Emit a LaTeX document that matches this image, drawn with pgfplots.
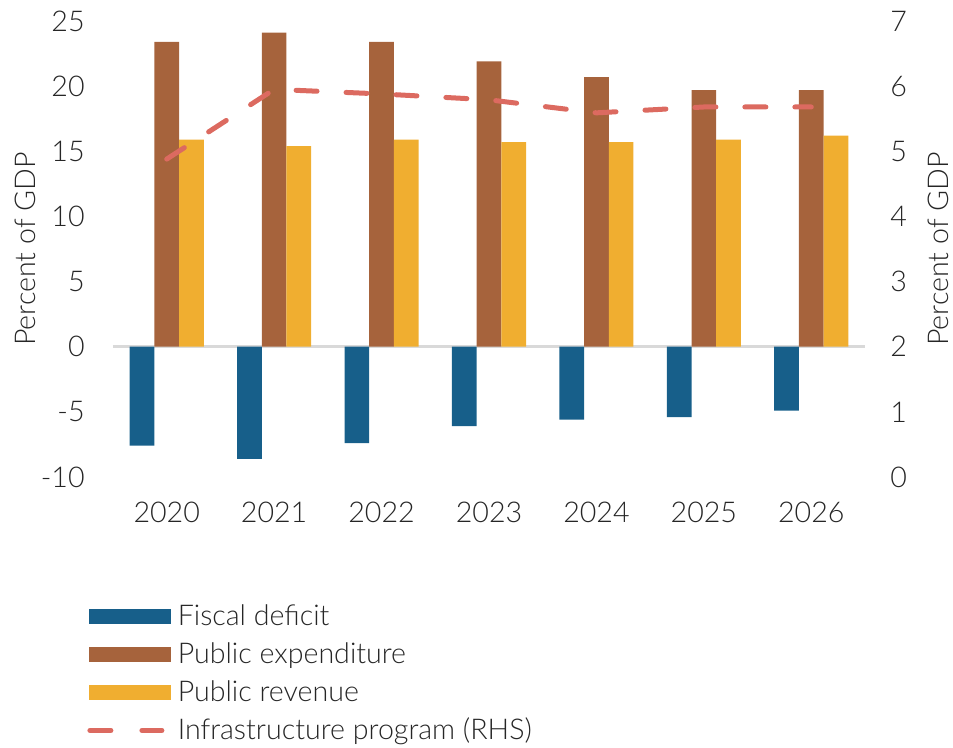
\documentclass[border=0pt]{standalone}
\usepackage{fontspec}
\setmainfont{Lato Light}
\usepackage{pgfplots}
\pgfplotsset{compat=1.18}

\definecolor{cdef}{HTML}{175F8A}
\definecolor{cexp}{HTML}{A6633C}
\definecolor{crev}{HTML}{F0AE30}
\definecolor{cinf}{HTML}{DC6A60}
\definecolor{ctxt}{HTML}{262626}

% left axis, percent of GDP
\pgfplotstableread{
x def exp rev
0 -7.6 23.4 15.9
1 -8.6 24.1 15.4
2 -7.4 23.4 15.9
3 -6.1 21.9 15.7
4 -5.6 20.7 15.7
5 -5.4 19.7 15.9
6 -4.9 19.7 16.2
}\fiscal

% right axis (RHS)
\pgfplotstableread{
x inf
0 4.88
1 5.95
2 5.88
3 5.79
4 5.59
5 5.68
6 5.68
}\infra

\pgfplotsset{
  common/.style={
    width=376pt, height=228pt, scale only axis,
    xmin=-0.5, xmax=6.5,
    axis line style={draw=none},
    major tick length=0pt,
    font=\fontsize{14.3}{16}\selectfont,
    every tick label/.append style={text=ctxt},
    label style={text=ctxt},
  },
}

\begin{document}
\begin{tikzpicture}
\begin{axis}[common,
    ymin=-10, ymax=25,
    ytick={-10,-5,0,5,10,15,20,25},
    yticklabels={-10,-5,0,5,10,15,20,25},
    yticklabel style={anchor=east, inner sep=0pt, xshift=-14pt},
    xtick={0,...,6},
    xticklabels={2020,2021,2022,2023,2024,2025,2026},
    xticklabel style={anchor=north, inner sep=0pt, yshift=-12.5pt},
    extra y ticks={0},
    extra y tick labels={},
    extra y tick style={ymajorgrids=true, major grid style={draw=black!15, line width=1.5pt}},
    ylabel={Percent of GDP},
    ylabel style={at={(rel axis cs:0,0.5)}, anchor=center, yshift=44pt},
  ]
  \coordinate (O) at (rel axis cs:0,0);
  \addplot[ybar, bar width=0.23, bar shift=-0.23, fill=cdef, draw=none] table[x=x, y=def] {\fiscal};
  \addplot[ybar, bar width=0.23, bar shift=0, fill=cexp, draw=none] table[x=x, y=exp] {\fiscal};
  \addplot[ybar, bar width=0.23, bar shift=0.23, fill=crev, draw=none] table[x=x, y=rev] {\fiscal};
\end{axis}

\begin{axis}[common,
    axis x line=none,
    axis y line*=right,
    ymin=0, ymax=7,
    ytick={0,...,7},
    yticklabels={0,1,2,3,4,5,6,7},
    yticklabel style={anchor=west, inner sep=0pt, xshift=12.5pt},
    ylabel={Percent of GDP},
    ylabel style={at={(rel axis cs:1,0.5)}, anchor=center, yshift=-36.75pt},
    legend style={
      at={(0,0)}, anchor=north west, xshift=-13pt, yshift=-64.7pt,
      draw=none, fill=none, inner sep=0pt,
      row sep=9.4pt, column sep=3.5pt,
      nodes={inner sep=0pt, text height=9.6pt, text depth=0pt, text=ctxt},
    },
    legend cell align=left,
  ]
  \addlegendimage{legend image code/.code={\fill[cdef] (0pt,-3.6pt) rectangle (40.5pt,3.6pt);}}
  \addlegendimage{legend image code/.code={\fill[cexp] (0pt,-3.6pt) rectangle (40.5pt,3.6pt);}}
  \addlegendimage{legend image code/.code={\fill[crev] (0pt,-3.6pt) rectangle (40.5pt,3.6pt);}}
  \addplot[cinf, mark=none, line width=2.5pt, line cap=round, dash pattern=on 10.5pt off 14.5pt,
    legend image code/.code={\draw[cinf, line width=2.5pt, line cap=round] (0.25pt,0pt) -- (11.25pt,0pt) (26.25pt,0pt) -- (36.25pt,0pt);}]
    table[x=x, y=inf] {\infra};
  \legend{Fiscal deficit, Public expenditure, Public revenue, Infrastructure program (RHS)}
\end{axis}
\pgfresetboundingbox
\path (O) ++(-56.5pt,238.5pt) rectangle ++(476.5pt,-374pt);
\end{tikzpicture}
\end{document}
